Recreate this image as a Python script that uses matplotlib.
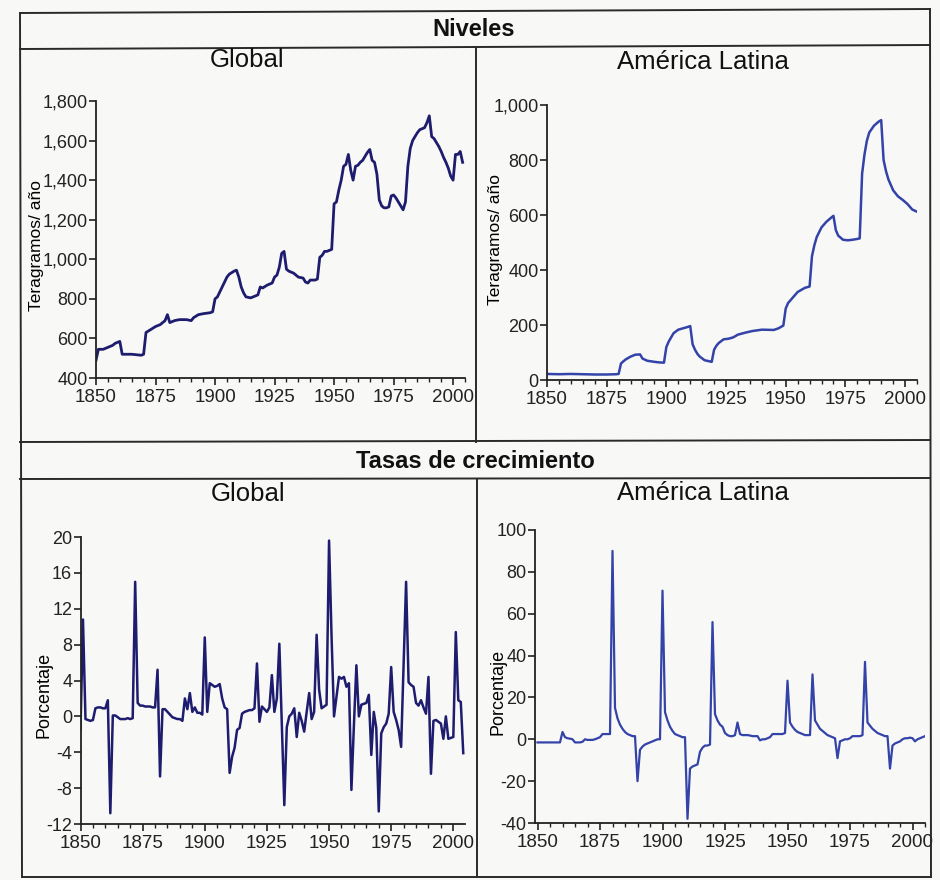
import matplotlib
matplotlib.use("Agg")
import matplotlib.pyplot as plt
from matplotlib.lines import Line2D
from matplotlib.ticker import MultipleLocator, FuncFormatter

# ---------------- data ----------------
gl_years = [1850, 1851, 1853, 1855, 1857, 1858, 1859, 1860, 1861, 1862, 1865, 1869, 1870, 1871,
            1873, 1875, 1877, 1879, 1880, 1881, 1883, 1885, 1888, 1890, 1891, 1893, 1895, 1898,
            1899, 1900, 1901, 1903, 1905, 1906, 1908, 1909, 1910, 1911, 1912, 1913, 1915, 1917,
            1918, 1919, 1920, 1922, 1924, 1925, 1926, 1927, 1928, 1929, 1930, 1931, 1933, 1935,
            1937, 1938, 1939, 1940, 1942, 1943, 1944, 1945, 1946, 1947, 1948, 1949, 1950, 1951,
            1952, 1953, 1954, 1955, 1956, 1957, 1958, 1959, 1960, 1961, 1962, 1963, 1964, 1965,
            1966, 1967, 1968, 1969, 1970, 1971, 1972, 1973, 1974, 1975, 1976, 1977, 1978, 1979,
            1980, 1981, 1982, 1983, 1984, 1985, 1986, 1987, 1988, 1989, 1990, 1991, 1992, 1993,
            1994, 1995, 1996, 1997, 1998, 1999, 2000, 2001, 2002, 2003, 2004]
gl_levels = [490, 545, 545, 555, 565, 575, 580, 585, 520, 520, 520, 515, 520, 630,
             645, 660, 670, 690, 720, 680, 690, 695, 695, 690, 705, 720, 725, 730,
             735, 800, 810, 860, 910, 925, 940, 945, 910, 860, 830, 810, 805, 815,
             820, 860, 855, 870, 880, 910, 920, 960, 1030, 1040, 950, 940, 930, 910,
             905, 885, 880, 895, 895, 900, 1010, 1020, 1040, 1040, 1045, 1050, 1280, 1290,
             1350, 1400, 1470, 1480, 1530, 1450, 1400, 1470, 1475, 1490, 1500, 1520, 1540, 1555,
             1500, 1490, 1430, 1300, 1270, 1260, 1260, 1265, 1320, 1325, 1310, 1290, 1270, 1250,
             1290, 1470, 1560, 1600, 1620, 1640, 1655, 1660, 1665, 1690, 1725, 1620, 1610, 1590,
             1570, 1545, 1515, 1490, 1460, 1420, 1400, 1530, 1530, 1545, 1490]

la_years = [1850, 1855, 1860, 1865, 1870, 1875, 1879, 1880, 1881, 1882, 1883, 1885, 1887, 1889,
            1890, 1892, 1895, 1897, 1899, 1900, 1901, 1902, 1903, 1905, 1907, 1909, 1910, 1911,
            1912, 1913, 1914, 1916, 1918, 1919, 1920, 1921, 1922, 1924, 1926, 1928, 1930, 1933,
            1936, 1940, 1945, 1947, 1949, 1950, 1951, 1953, 1955, 1958, 1960, 1961, 1962, 1963,
            1965, 1967, 1969, 1970, 1971, 1972, 1974, 1976, 1978, 1980, 1981, 1982, 1983, 1984,
            1985, 1987, 1989, 1990, 1991, 1992, 1993, 1995, 1997, 1999, 2001, 2003, 2005]
la_levels = [22, 21, 22, 21, 20, 20, 21, 22, 60, 68, 75, 85, 92, 93,
             78, 70, 66, 64, 63, 120, 140, 155, 170, 183, 188, 193, 196, 130,
             110, 95, 85, 72, 68, 66, 110, 125, 135, 148, 150, 155, 165, 172,
             178, 183, 182, 188, 198, 260, 280, 300, 320, 335, 340, 450, 490, 520,
             555, 575, 590, 597, 545, 525, 510, 508, 510, 513, 515, 750, 820, 870,
             900, 925, 940, 945, 800, 760, 730, 690, 668, 655, 640, 620, 612]

gg_years = list(range(1850, 2005))
gg_rates = [-1.5, 10.8, -0.3, -0.4, -0.5, -0.4, 0.9, 1.0, 1.0, 0.9,      # 1850-59
            0.9, 1.8, -10.8, 0.1, 0.1, -0.1, -0.3, -0.3, -0.3, -0.2,     # 1860-69
            -0.3, -0.2, 15.0, 1.5, 1.2, 1.2, 1.1, 1.1, 1.1, 1.0,         # 1870-79
            1.0, 5.2, -6.7, 0.8, 0.8, 0.5, 0.2, -0.1, -0.2, -0.3,        # 1880-89
            -0.3, -0.5, 2.0, 0.8, 2.6, 0.5, 1.0, 0.4, 0.4, 0.2,          # 1890-99
            8.8, 0.5, 3.7, 3.5, 3.3, 3.4, 3.6, 2.0, 1.0, 0.8,            # 1900-09
            -6.3, -4.5, -3.5, -1.5, -1.3, 0.3, 0.5, 0.6, 0.7, 0.7,       # 1910-19
            0.9, 5.9, -0.6, 1.1, 0.8, 0.5, 1.0, 4.6, 0.5, 2.0,           # 1920-29
            8.1, -1.0, -9.9, -1.2, 0.0, 0.3, 0.9, -2.3, 0.4, -0.5,       # 1930-39
            -1.7, 0.5, 2.6, -0.3, 0.5, 9.1, 3.0, 0.9, 1.1, 1.3,          # 1940-49
            19.6, 9.0, 0.0, 2.2, 4.4, 4.2, 4.4, 3.3, 3.7, -8.2,          # 1950-59
            -1.0, 5.7, 0.0, 1.3, 1.4, 1.5, 2.4, -4.3, 0.5, -1.3,         # 1960-69
            -10.6, -1.9, -1.2, -0.8, 0.3, 5.5, 0.5, -0.4, -1.5, -3.4,    # 1970-79
            5.8, 15.0, 3.8, 3.5, 3.3, 1.5, 1.2, 1.8, 1.0, 0.3,           # 1980-89
            4.4, -6.4, -0.5, -0.4, -0.6, -0.8, -2.5, 0.0, -2.5, -2.4,    # 1990-99
            -2.3, 9.4, 1.8, 1.6, -4.1]                                   # 2000-04

lg_years = list(range(1850, 2006))
lg_rates = [-1.5, -1.5, -1.5, -1.5, -1.5, -1.5, -1.5, -1.5, -1.5, -1.5,   # 1850-59
            3.5, 1.0, 0.5, 0.3, 0.0, -1.5, -1.5, -1.5, -1.2, 0.0,         # 1860-69
            -0.3, -0.3, -0.3, 0.0, 0.5, 1.0, 2.5, 2.5, 2.5, 2.5,          # 1870-79
            90.0, 15.0, 10.0, 7.0, 5.0, 3.5, 2.5, 2.0, 1.5, 1.5,          # 1880-89
            -20.0, -5.0, -3.5, -2.5, -2.0, -1.5, -1.0, -0.5, 0.0, 0.0,    # 1890-99
            71.0, 13.0, 9.0, 6.0, 4.0, 2.5, 2.0, 1.5, 1.0, 1.0,           # 1900-09
            -38.0, -14.0, -13.0, -12.5, -12.0, -6.0, -4.0, -3.0, -3.0, -2.5,  # 1910-19
            56.0, 12.0, 9.0, 7.0, 6.0, 3.0, 2.0, 1.5, 1.5, 2.0,           # 1920-29
            8.0, 2.5, 2.0, 2.0, 2.0, 1.8, 1.5, 1.5, 1.5, -0.5,            # 1930-39
            0.0, 0.0, 0.5, 1.0, 2.5, 2.5, 2.5, 2.5, 2.5, 3.0,             # 1940-49
            28.0, 8.0, 6.0, 4.5, 3.5, 3.0, 2.5, 2.0, 2.0, 2.0,            # 1950-59
            31.0, 9.0, 7.0, 5.0, 4.0, 3.0, 2.0, 1.5, 1.0, 0.5,            # 1960-69
            -9.0, -1.0, -0.5, 0.0, 0.0, 0.5, 1.5, 1.5, 1.5, 1.5,          # 1970-79
            2.0, 37.0, 8.0, 6.5, 5.0, 4.0, 3.0, 2.5, 2.0, 1.5,            # 1980-89
            1.5, -14.0, -3.0, -2.0, -1.5, -1.0, 0.0, 0.5, 0.5, 0.8,       # 1990-99
            0.5, -1.0, 0.0, 0.5, 1.0, 1.5]                                # 2000-05

x_major = [1850, 1875, 1900, 1925, 1950, 1975, 2000]

# ---------------- styling ----------------
FONT = ['Liberation Sans', 'DejaVu Sans']
plt.rcParams['font.family'] = FONT
plt.rcParams['axes.unicode_minus'] = False
W, H = 940, 880
BG = '#f8f8f6'
C_GLOBAL = '#1e1c6e'
C_LATAM = '#3343a8'
INK = '#222222'

fig = plt.figure(figsize=(W / 100, H / 100), dpi=100, facecolor=BG)


def px_axes(x0, y0, x1, y1):
    """axes from pixel box (left, top, right, bottom)"""
    ax = fig.add_axes([x0 / W, 1 - y1 / H, (x1 - x0) / W, (y1 - y0) / H])
    ax.set_facecolor('none')
    for s in ('top', 'right'):
        ax.spines[s].set_visible(False)
    for s in ('left', 'bottom'):
        ax.spines[s].set_linewidth(1.3)
        ax.spines[s].set_color(INK)
    ax.tick_params(axis='both', which='major', direction='out', length=5, width=1.2,
                   colors=INK, pad=1)
    ax.tick_params(axis='x', which='major', labelsize=13.5, pad=3)
    ax.tick_params(axis='y', which='major', labelsize=13)
    ax.tick_params(axis='x', which='minor', direction='out', length=3, width=1.0, colors=INK)
    ax.set_xticks(x_major)
    ax.xaxis.set_minor_locator(MultipleLocator(5))
    return ax


def fline(x0, y0, x1, y1, lw=1.4):
    fig.add_artist(Line2D([x0 / W, x1 / W], [1 - y0 / H, 1 - y1 / H],
                          transform=fig.transFigure, color='#2a2a2a', lw=lw))


def ftext(x, y, s, size, bold=False):
    fig.text(x / W, 1 - y / H, s, ha='center', va='center', fontsize=size,
             fontweight='bold' if bold else 'normal', color='#111111')


comma = FuncFormatter(lambda v, p: f"{int(v):,}")

# top-left: Global levels
ax1 = px_axes(96, 101, 465, 378)
ax1.plot(gl_years, gl_levels, color=C_GLOBAL, lw=2.0)
ax1.set_xlim(1850, 2005)
ax1.set_ylim(400, 1800)
ax1.set_yticks(range(400, 1801, 200))
ax1.yaxis.set_major_formatter(comma)
ax1.set_ylabel('Teragramos/ año', fontsize=12.5)
ax1.yaxis.set_label_coords(-0.141, 0.48)

# top-right: Latin America levels
ax2 = px_axes(547, 105, 917, 380)
ax2.plot(la_years, la_levels, color=C_LATAM, lw=1.8)
ax2.set_xlim(1850, 2005)
ax2.set_ylim(0, 1000)
ax2.set_yticks(range(0, 1001, 200))
ax2.yaxis.set_major_formatter(comma)
ax2.set_ylabel('Teragramos/ año', fontsize=12.5)
ax2.yaxis.set_label_coords(-0.119, 0.51)

# bottom-left: Global growth
ax3 = px_axes(80.5, 537, 465, 824)
ax3.plot(gg_years, gg_rates, color=C_GLOBAL, lw=1.8)
ax3.set_xlim(1850, 2004.7)
ax3.set_ylim(-12, 20)
ax3.set_yticks(range(-12, 21, 4))
ax3.set_ylabel('Porcentaje', fontsize=13)
ax3.yaxis.set_label_coords(-0.072, 0.45)

# bottom-right: Latin America growth
ax4 = px_axes(535, 530, 925, 823)
ax4.plot(lg_years, lg_rates, color=C_LATAM, lw=1.6)
ax4.set_xlim(1849, 2005)
ax4.set_ylim(-40, 100)
ax4.set_yticks(range(-40, 101, 20))
ax4.set_ylabel('Porcentaje', fontsize=13)
ax4.yaxis.set_label_coords(-0.072, 0.447)

# ---------------- frame (table-like boxes) ----------------
fline(20, 13, 930, 9)       # top
fline(20, 13, 22, 877)      # left
fline(930, 9, 931, 877)     # right
fline(22, 877, 931, 877)    # bottom
fline(20, 49, 930, 45)      # under "Niveles"
fline(476, 48, 476, 442)    # vertical divider (top)
fline(20, 442, 930, 440)    # section separator
fline(20, 479, 930, 478)    # under "Tasas de crecimiento"
fline(477, 479, 477, 877)   # vertical divider (bottom)

ftext(474, 30, 'Niveles', 17, bold=True)
ftext(247, 60, 'Global', 18.5)
ftext(703, 62, 'América Latina', 18.5)
ftext(475, 461, 'Tasas de crecimiento', 17, bold=True)
ftext(248, 494, 'Global', 18.5)
ftext(703, 493, 'América Latina', 18.5)

fig.savefig('out.png', dpi=100, facecolor=BG)
